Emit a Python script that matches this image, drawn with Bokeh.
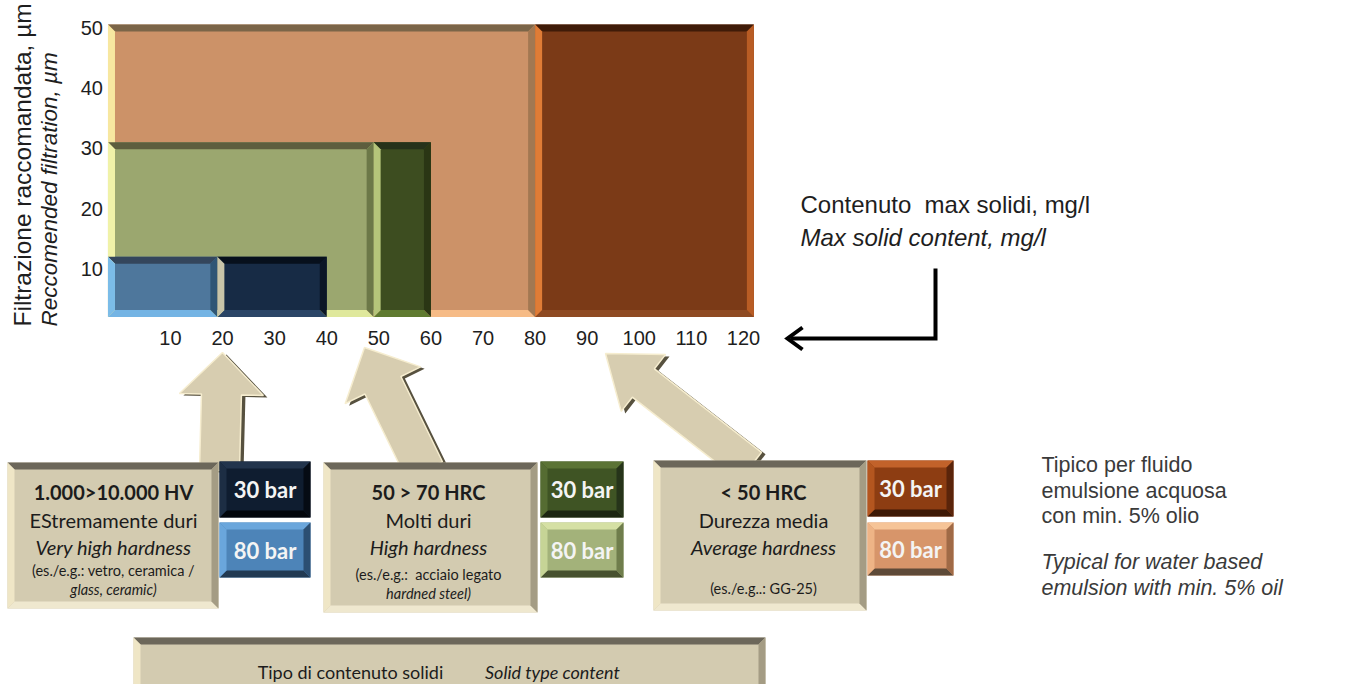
import math
from bokeh.plotting import figure
from bokeh.models import Range1d, LinearAxis, FixedTicker, ColumnDataSource
from bokeh.core.properties import value
from bokeh.embed import file_html
from bokeh.resources import INLINE

# ---------------- data ----------------
x_ticks = [10, 20, 30, 40, 50, 60, 70, 80, 90, 100, 110, 120]   # max solid content, mg/l
y_ticks = [10, 20, 30, 40, 50]                                   # recommended filtration, µm

block_labels = ["< 50 HRC / 80 bar", "< 50 HRC / 30 bar",
                "50 > 70 HRC / 80 bar", "50 > 70 HRC / 30 bar",
                "1.000>10.000 HV / 80 bar", "1.000>10.000 HV / 30 bar"]
solids_start = [-2, 80, -2, 49, -2, 19]
solids_end = [80, 122, 49, 60, 19, 40]
filtration_low = [2, 2, 2, 2, 2, 2]
filtration_high = [50.5, 50.5, 31, 31, 12, 12]

block_fill = ["#cc9268", "#7b3a17", "#9ba76f", "#3d4d20", "#4e779c", "#172b45"]
block_top = ["#7b6548", "#3f1b08", "#5d5e3e", "#26321a", "#34465c", "#07101c"]
block_left = ["#f7e7a0", "#e07c36", "#f0f2a8", "#b5c57a", "#7bbce8", "#c8c4a8"]
block_right = ["#a27852", "#b85c24", "#6c7848", "#2a3614", "#2f5575", "#0b1626"]
block_bottom = ["#f6bb86", "#8e4a22", "#dfe89c", "#5f7a30", "#74b4e4", "#2a4566"]

# ---------------- page / scale layout ----------------
W, H = 1350, 684
OFF = 0
X_ORIGIN_PX, X_PX_PER_UNIT = 117.9, 5.209
Y_ORIGIN_PX, Y_PX_PER_UNIT = 328.6, 6.03

x_range = Range1d((OFF - X_ORIGIN_PX) / X_PX_PER_UNIT,
                  (OFF + W - X_ORIGIN_PX) / X_PX_PER_UNIT)
y_range = Range1d((Y_ORIGIN_PX - (OFF + H)) / Y_PX_PER_UNIT,
                  (Y_ORIGIN_PX - OFF) / Y_PX_PER_UNIT)

p = figure(width=W, height=H, x_range=x_range, y_range=y_range,
           x_axis_location=None, y_axis_location=None,
           toolbar_location=None, output_backend="svg", min_border=0,
           outline_line_color=None, background_fill_color="white",
           border_fill_color="white")
p.grid.visible = False
p.extra_x_ranges = {"px": Range1d(OFF, OFF + W)}
p.extra_y_ranges = {"px": Range1d(OFF + H, OFF)}
PX = dict(x_range_name="px", y_range_name="px")

SANS = "Liberation Sans"
CAL = "Lato"


def bevel(l, r, top, bottom, bx, dy):
    """four bevel strips: top, bottom, left, right"""
    xs = [[l, r, r - bx, l + bx],
          [l, r, r - bx, l + bx],
          [l, l + bx, l + bx, l],
          [r, r - bx, r - bx, r]]
    ys = [[top, top, top - dy, top - dy],
          [bottom, bottom, bottom + dy, bottom + dy],
          [top, top - dy, bottom + dy, bottom],
          [top, top - dy, bottom + dy, bottom]]
    return xs, ys


# ---------------- chart blocks (data units) ----------------
p.quad(left=solids_start, right=solids_end, bottom=filtration_low, top=filtration_high,
       fill_color=block_fill, line_color=None)
bxs, bys, bcols = [], [], []
bx = 7 / X_PX_PER_UNIT
by = 7 / Y_PX_PER_UNIT
for i in range(len(solids_start)):
    xs, ys = bevel(solids_start[i], solids_end[i], filtration_high[i], filtration_low[i], bx, by)
    bxs += xs
    bys += ys
    bcols += [block_top[i], block_bottom[i], block_left[i], block_right[i]]
p.patches(bxs, bys, fill_color=bcols, line_color=None)

# axes drawn inside the frame
xa = LinearAxis(fixed_location=min(filtration_low), ticker=FixedTicker(ticks=x_ticks))
ya = LinearAxis(fixed_location=min(solids_start), ticker=FixedTicker(ticks=y_ticks))
for ax in (xa, ya):
    ax.axis_line_color = None
    ax.major_tick_line_color = None
    ax.minor_tick_line_color = None
    ax.major_tick_out = 0
    ax.major_tick_in = 0
    ax.major_label_text_font = SANS
    ax.major_label_text_font_size = "20px"
    ax.major_label_text_color = "#1e1e1e"
xa.major_label_standoff = 14
ya.major_label_standoff = 5
p.add_layout(xa, "below")
p.add_layout(ya, "left")

# ---------------- 3D arrows (page pixels) ----------------
ARROWS = [  # base, tip, shaft half-width, head half-width, head length
    ((219, 470), (222, 352), 20, 42, 42),
    ((424, 470), (364, 347), 20, 42, 42),
    ((750, 466), (605, 353), 18, 36, 48),
]


def arrow_poly(base, tip, shw, hhw, hl, dx=0, dy=0):
    ux, uy = tip[0] - base[0], tip[1] - base[1]
    ln = math.hypot(ux, uy)
    ux, uy = ux / ln, uy / ln
    nx, ny = -uy, ux
    nk = (tip[0] - ux * hl, tip[1] - uy * hl)
    pts = [(base[0] + nx * shw, base[1] + ny * shw),
           (nk[0] + nx * shw, nk[1] + ny * shw),
           (nk[0] + nx * hhw, nk[1] + ny * hhw),
           tip,
           (nk[0] - nx * hhw, nk[1] - ny * hhw),
           (nk[0] - nx * shw, nk[1] - ny * shw),
           (base[0] - nx * shw, base[1] - ny * shw)]
    return [q[0] + dx for q in pts], [q[1] + dy for q in pts]


sh = [arrow_poly(*a, dx=4, dy=2) for a in ARROWS]
p.patches([s[0] for s in sh], [s[1] for s in sh], fill_color="#57513f", line_color=None, **PX)
mn = [arrow_poly(*a) for a in ARROWS]
p.patches([s[0] for s in mn], [s[1] for s in mn], fill_color="#d7cdb0",
          line_color="#f6edcf", line_width=1.5, **PX)

# ---------------- boxes (page pixels) ----------------
BOXES = [  # l, r, top, bottom, fill, top, left, right, bottom
    (7, 218, 462, 608, "#d3cbb0", "#6c675a", "#efe6c6", "#a49c84", "#efe8cf"),
    (323, 537, 462, 612, "#d3cbb0", "#6c675a", "#efe6c6", "#a49c84", "#efe8cf"),
    (653, 866, 460, 610, "#d3cbb0", "#6c675a", "#efe6c6", "#a49c84", "#efe8cf"),
    (133, 765, 637, 692, "#d3cbb0", "#6c675a", "#efe6c6", "#a49c84", "#efe8cf"),
    (219, 310, 461, 517, "#0f1d30", "#22344c", "#1d2e44", "#050b14", "#02060c"),
    (219, 310, 522, 577, "#4d84b8", "#6aa6dc", "#6aa6dc", "#2c4f72", "#223a52"),
    (540, 623, 461, 517, "#3f5424", "#5b7335", "#556c32", "#26341a", "#1c2612"),
    (540, 623, 522, 577, "#a3b27a", "#d5e0a4", "#c6d496", "#6f7d4c", "#47512f"),
    (867, 953, 460, 516, "#8d3d12", "#c2622a", "#b4561f", "#5a240a", "#3e1906"),
    (867, 953, 522, 575, "#d7956a", "#f6c497", "#eeb486", "#a06a46", "#5e4a38"),
]
p.quad(left=[b[0] for b in BOXES], right=[b[1] for b in BOXES],
       top=[b[2] for b in BOXES], bottom=[b[3] for b in BOXES],
       fill_color=[b[4] for b in BOXES], line_color=None, **PX)
pxs, pys, pcs = [], [], []
for b in BOXES:
    xs, ys = bevel(b[0], b[1], b[2], b[3], 7, -7)
    pxs += xs
    pys += ys
    pcs += [b[5], b[8], b[6], b[7]]
p.patches(pxs, pys, fill_color=pcs, line_color=None, **PX)

# ---------------- texts ----------------
box_text = ColumnDataSource(dict(
    x=[113, 113, 113, 113, 113,
       428, 428, 428, 428, 428,
       763, 763, 763, 763,
       350, 552],
    y=[491, 519, 546, 570, 589,
       491, 519, 546, 574, 593,
       491, 519, 546, 588,
       671, 671],
    text=["1.000>10.000 HV", "EStremamente duri", "Very high hardness",
          "(es./e.g.: vetro, ceramica /", "glass, ceramic)",
          "50 > 70 HRC", "Molti duri", "High hardness",
          "(es./e.g.:\u00a0 acciaio legato", "hardned steel)",
          "< 50 HRC", "Durezza media", "Average hardness", "(es./e.g..: GG-25)",
          "Tipo di contenuto solidi", "Solid type content"],
    size=["20px", "20px", "20px", "14.5px", "14.5px",
          "20px", "20px", "20px", "14.5px", "14.5px",
          "20px", "20px", "20px", "14.5px",
          "18px", "18px"],
    style=["bold", "normal", "italic", "normal", "italic",
           "bold", "normal", "italic", "normal", "italic",
           "bold", "normal", "italic", "normal",
           "normal", "italic"],
))
p.text(x="x", y="y", text="text", text_font_size="size", text_font_style="style",
       text_font=value(CAL), text_color="#1c1c1c", text_align="center",
       text_baseline="middle", source=box_text, **PX)

bar_text = ColumnDataSource(dict(
    x=[264.5, 264.5, 581.5, 581.5, 910, 910],
    y=[489, 550, 489, 550, 488, 549],
    text=["30 bar", "80 bar", "30 bar", "80 bar", "30 bar", "80 bar"],
))
p.text(x="x", y="y", text="text", text_font_size="22px", text_font_style="bold",
       text_font=value(CAL), text_color="#f4f4f4", text_align="center",
       text_baseline="middle", source=bar_text, **PX)

# axis titles (rotated)
p.text(x=[22], y=[326], text=["Filtrazione raccomandata, µm"], angle=math.pi / 2,
       text_font=value(SANS), text_font_size="24.5px", text_color="#1e1e1e",
       text_baseline="middle", **PX)
p.text(x=[49], y=[326], text=["Reccomended filtration, µm"], angle=math.pi / 2,
       text_font=value(SANS), text_font_size="22.5px", text_font_style="italic",
       text_color="#1e1e1e", text_baseline="middle", **PX)

p.text(x=[800], y=[204], text=["Contenuto\u00a0 max solidi, mg/l"], text_font=value(SANS),
       text_font_size="24px", text_color="#1e1e1e", text_baseline="middle", **PX)
p.text(x=[800], y=[237], text=["Max solid content, mg/l"], text_font=value(SANS),
       text_font_size="24px", text_font_style="italic", text_color="#1e1e1e",
       text_baseline="middle", **PX)

note = ColumnDataSource(dict(
    x=[1041] * 5, y=[464, 490, 515, 561, 587],
    text=["Tipico per fluido", "emulsione acquosa", "con min. 5% olio",
          "Typical for water based", "emulsion with min. 5% oil"],
    style=["normal", "normal", "normal", "italic", "italic"],
))
p.text(x="x", y="y", text="text", text_font_style="style", text_font=value(SANS),
       text_font_size="21.5px", text_color="#3a3a3a", text_baseline="middle",
       source=note, **PX)

# black elbow arrow pointing to the x axis
p.line([935, 935, 790], [268, 338, 338], line_width=4, line_color="black",
       line_join="miter", **PX)
p.line([802, 787, 802], [327, 338, 349], line_width=4, line_color="black",
       line_join="miter", **PX)

open("out.html", "w").write(file_html(p, INLINE))
